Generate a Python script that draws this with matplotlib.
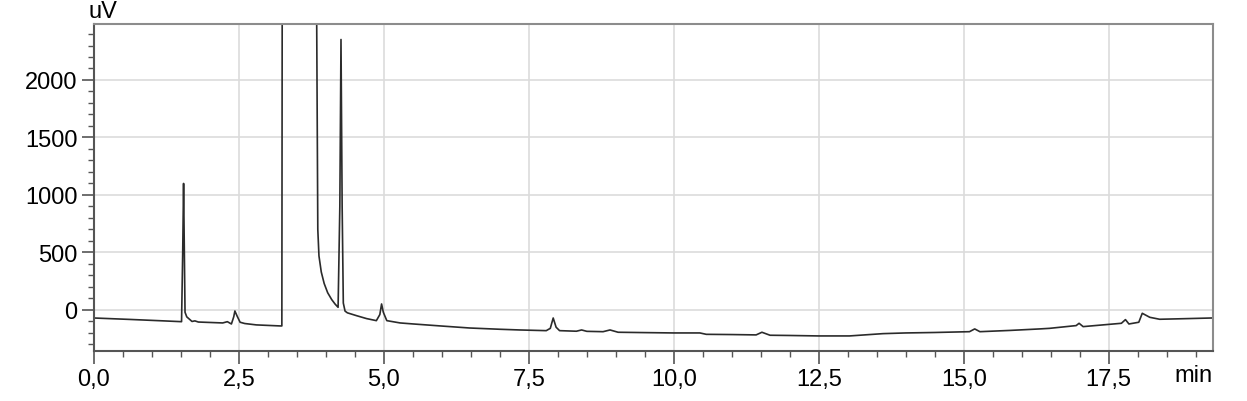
import numpy as np
import matplotlib as mpl
import matplotlib.pyplot as plt
from matplotlib.ticker import MultipleLocator, FuncFormatter

mpl.rcParams['font.family'] = ['Liberation Sans', 'DejaVu Sans']

# retention time (min) and detector signal (uV)
time_min = [0.00, 0.60, 1.20, 1.51, 1.53, 1.545, 1.57, 1.60, 1.69, 1.74, 1.80,
            2.22, 2.30, 2.37, 2.41, 2.43, 2.47, 2.52, 2.60, 2.80, 3.21, 3.24,
            3.26, 3.50, 3.83, 3.84, 3.86, 3.88, 3.92, 3.97, 4.03, 4.10, 4.16, 4.21,
            4.24, 4.26, 4.28, 4.30, 4.33, 4.37, 4.53, 4.70, 4.87, 4.93, 4.96,
            4.99, 5.05, 5.28, 5.51, 6.00, 6.48, 7.00, 7.34, 7.80, 7.87,
            7.92, 7.97, 8.03, 8.32, 8.41, 8.50, 8.78, 8.90, 9.04, 9.50,
            10.00, 10.45, 10.56, 11.00, 11.42, 11.52, 11.66, 12.00, 12.50,
            13.03, 13.61, 14.00, 14.50, 15.10, 15.19, 15.28, 15.80, 16.31,
            16.48, 16.94, 16.99, 17.06, 17.40, 17.72, 17.79, 17.85, 18.02,
            18.08, 18.21, 18.38, 18.80, 19.27]
signal_uv = [-70, -82, -95, -102, 500, 1100, -20, -60, -100, -95, -105,
             -113, -102, -122, -60, -9, -55, -107, -118, -130, -139, -139,
             9000, 40000, 9000, 2600, 700, 470, 330, 230, 150, 90, 50, 23,
             900, 2352, 900, 60, -10, -25, -50, -75, -93, -40, 52,
             -20, -93, -113, -122, -140, -157, -168, -174, -180, -160,
             -70, -150, -180, -185, -174, -186, -189, -174, -194, -197,
             -200, -200, -212, -214, -217, -194, -220, -222, -226,
             -226, -206, -200, -196, -189, -165, -189, -178, -165,
             -160, -136, -116, -145, -130, -116, -84, -122, -107,
             -29, -64, -81, -76, -70]

fig = plt.figure(figsize=(12.47, 4.02), dpi=100)
ax = fig.add_axes([94/1247, 1-352/402, (1213-94)/1247, (352-25)/402])

ax.plot(time_min, signal_uv, color='#2b2b2b', lw=1.2)

ax.set_xlim(0, 19.3)
ax.set_ylim(-357, 2487)
ax.xaxis.set_major_locator(MultipleLocator(2.5))
ax.xaxis.set_minor_locator(MultipleLocator(0.5))
ax.yaxis.set_major_locator(MultipleLocator(500))
ax.yaxis.set_minor_locator(MultipleLocator(100))
ax.xaxis.set_major_formatter(FuncFormatter(lambda v, p: f"{v:.1f}".replace('.', ',')))
ax.yaxis.set_major_formatter(FuncFormatter(lambda v, p: f"{v:.0f}"))

ax.grid(True, which='major', color='#dcdcdc', lw=1.2)
ax.set_axisbelow(True)
for s in ax.spines.values():
    s.set_color('#8c8c8c')
    s.set_linewidth(1.5)
ax.spines['left'].set_color('#555555')
ax.spines['bottom'].set_color('#555555')

ax.tick_params(which='major', length=9, width=1.2, color='#555555',
               labelsize=17, labelcolor='black', pad=3)
ax.tick_params(which='minor', length=4, width=1.0, color='#555555')

fig.text(88/1247, 1-12/402, 'uV', fontsize=17, ha='left', va='center')
fig.text(1213/1247, 1-376/402, 'min', fontsize=17, ha='right', va='center')

plt.savefig('out.png', dpi=100)
